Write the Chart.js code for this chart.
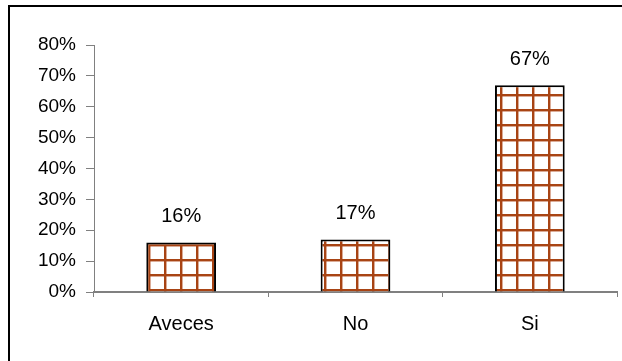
<!DOCTYPE html>
<html>
<head>
<meta charset="utf-8">
<script src="https://cdn.jsdelivr.net/npm/chart.js@4"></script>
<style>
  html, body { margin: 0; padding: 0; background: #fff; }
  #wrap { position: relative; width: 622px; height: 361px; overflow: hidden; }
  #frame { position: absolute; left: 8px; top: 5px; width: 640px; height: 400px; border: 2px solid #000; }
  canvas { position: absolute; left: 0; top: 0; }
</style>
</head>
<body>
<div id="wrap">
  <div id="frame"></div>
  <canvas id="chart" width="622" height="361"></canvas>
</div>
<script>
// Data
const categories = ['Aveces', 'No', 'Si'];
const values = [16, 17, 67];
const valueLabels = ['16%', '17%', '67%'];
const yTicks = [0, 10, 20, 30, 40, 50, 60, 70, 80];

const FONT = 'Liberation Sans, Arial, sans-serif';

// brown grid fill for the bars
function makeGridPattern() {
    const c = document.createElement('canvas');
    c.width = 16;
    c.height = 15;
    const g = c.getContext('2d');
    g.fillStyle = '#ffffff';
    g.fillRect(0, 0, 16, 15);
    g.fillStyle = 'rgba(176, 72, 24, 0.45)';
    g.fillRect(6, 0, 1, 15);
    g.fillRect(0, 6, 16, 1);
    g.fillStyle = '#a84414';
    g.fillRect(4, 0, 2, 15);
    g.fillRect(0, 4, 16, 2);
    const ctx = document.getElementById('chart').getContext('2d');
    return ctx.createPattern(c, 'repeat');
}

// values above bars
const valueLabelPlugin = {
    id: 'valueLabels',
    afterDatasetsDraw(chart) {
        const ctx = chart.ctx;
        const meta = chart.getDatasetMeta(0);
        ctx.save();
        ctx.font = '20px ' + FONT;
        ctx.fillStyle = '#000';
        ctx.textAlign = 'center';
        ctx.textBaseline = 'middle';
        meta.data.forEach((bar, i) => {
            ctx.fillText(valueLabels[i], bar.x, bar.y - 26);
        });
        ctx.restore();
    }
};

new Chart(document.getElementById('chart'), {
    type: 'bar',
    data: {
        labels: categories,
        datasets: [{
            data: values,
            backgroundColor: makeGridPattern(),
            borderColor: '#000',
            borderWidth: 2,
            borderSkipped: 'bottom',
            barPercentage: 0.4,
            categoryPercentage: 1.0
        }]
    },
    options: {
        responsive: false,
        animation: false,
        layout: { padding: { top: 45, right: 5, left: 0, bottom: 0 } },
        plugins: {
            legend: { display: false },
            tooltip: { enabled: false }
        },
        scales: {
            x: {
                grid: {
                    offset: true,
                    drawOnChartArea: false,
                    color: '#808080',
                    tickLength: 5,
                    tickColor: '#808080'
                },
                border: { color: '#808080', width: 2 },
                ticks: {
                    color: '#000',
                    font: { family: FONT, size: 20 },
                    padding: 15
                },
                afterFit(scale) { scale.height = 69; }
            },
            y: {
                min: 0,
                max: 80,
                afterBuildTicks(scale) {
                    scale.ticks = yTicks.map(v => ({ value: v }));
                },
                grid: {
                    drawOnChartArea: false,
                    tickLength: 8,
                    tickColor: '#808080'
                },
                border: { color: '#808080', width: 1 },
                ticks: {
                    color: '#000',
                    font: { family: FONT, size: 19 },
                    padding: 10,
                    callback: v => v + '%'
                },
                afterFit(scale) { scale.width = 94; }
            }
        }
    },
    plugins: [valueLabelPlugin]
});
</script>
</body>
</html>
